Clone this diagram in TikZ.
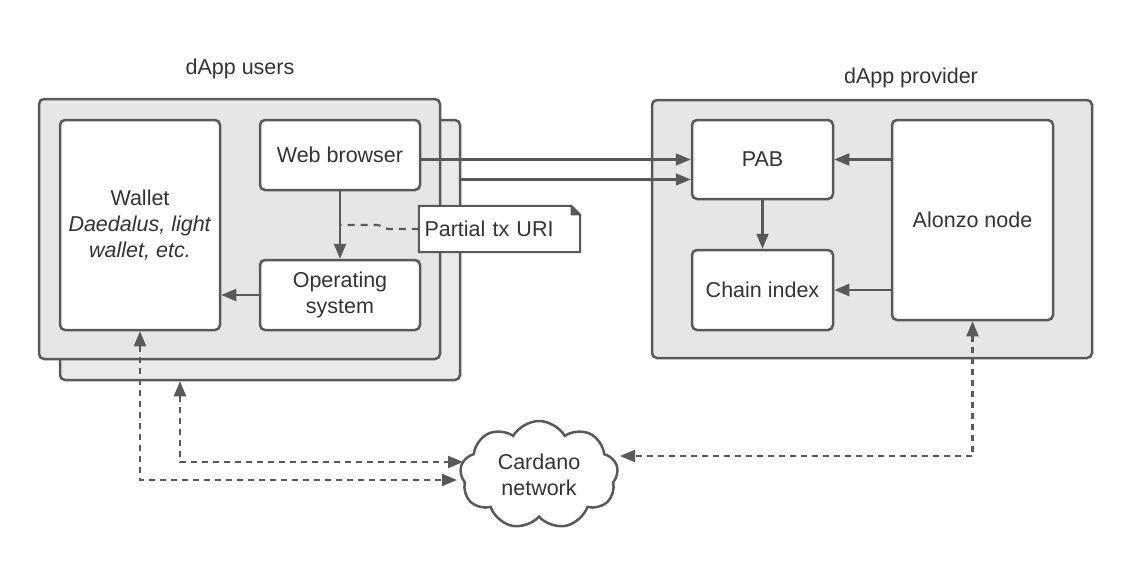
\documentclass[tikz,border=0pt]{standalone}
\usepackage{fontspec}
\setmainfont{Liberation Sans}
\definecolor{colline}{RGB}{89,89,89}
\definecolor{colgroup}{RGB}{230,230,230}
\definecolor{colshadow}{RGB}{234,234,234}
\definecolor{coltext}{RGB}{51,51,51}
\usetikzlibrary{
	arrows.meta,
	calc,
	shapes.symbols,
	positioning
}
\tikzset{
	>={Triangle[length=15pt,width=12pt]},
	groupbox/.style={draw=colline, line width=2.5pt, fill=colgroup, rounded corners=5pt, inner sep=0pt},
	compnode/.style={draw=colline, line width=2.5pt, fill=white, rounded corners=5pt, inner sep=0pt, text=coltext, align=center},
	grouplabel/.style={text=coltext},
	link/.style={->, draw=colline, line width=2.1pt},
	netlink/.style={<->, draw=colline, line width=2.1pt, dash pattern=on 6pt off 5pt},
	notelink/.style={draw=colline, line width=2.1pt, dash pattern=on 7pt off 6pt}
}

\begin{document}
\begin{tikzpicture}[x=1pt, y=-1pt, font=\fontsize{21.5}{26}\selectfont]
	\useasboundingbox (0,0) rectangle (1132,584);

	\node[groupbox, fill=colshadow, minimum width=400pt, minimum height=260pt] (usersback) at (260,250) {};
	\node[groupbox, minimum width=401pt, minimum height=260pt] (users) at (239.5,229) {};
	\node[groupbox, minimum width=440pt, minimum height=258pt] (provider) at (872,229) {};
	\node[grouplabel] (userslabel) at (240,69) {dApp users};
	\node[grouplabel] (providerlabel) at (911,78) {dApp provider};

	\node[compnode, minimum width=160pt, minimum height=210pt] (wallet) at (140,225)
		{Wallet\\\textit{Daedalus, light}\\\textit{wallet, etc.}};
	\node[compnode, minimum width=160pt, minimum height=70pt] (browser) at (340,155) {Web browser};
	\node[compnode, minimum width=160pt, minimum height=70pt] (os) at (340,295) {Operating\\system};

	\node[compnode, minimum width=141pt, minimum height=79pt] (pab) at (762.5,159.5) {PAB};
	\node[compnode, minimum width=141pt, minimum height=80pt] (chain) at (762.5,290) {Chain index};
	\node[compnode, minimum width=161pt, minimum height=200pt] (alonzo) at (972.5,220) {Alonzo node};

	\node[cloud, cloud puffs=9, cloud puff arc=120, aspect=1.45, draw=colline, line width=2.5pt, fill=white,
		minimum width=158pt, minimum height=108pt, inner sep=0pt, text=coltext, align=center]
		(cloud) at (539,475) {Cardano\\network};

	\coordinate (pabin) at ([yshift=-20pt]pab.west);
	\draw[link] (browser.east |- pab.west) -- (pab.west);
	\draw[link] (usersback.east |- pabin) -- (pabin);
	\draw[link] (browser.south) -- (os.north);
	\draw[link] (os.west) -- (wallet.east |- os.west);
	\draw[link] (pab.south) -- (chain.north);
	\draw[link] (alonzo.west |- pab.east) -- (pab.east);
	\draw[link] (alonzo.west |- chain.east) -- (chain.east);

	\node[fill=white, inner sep=0pt, minimum width=161pt, minimum height=46pt, text=coltext,
		text width=150pt, align=left] (note) at (499.5,229) {Partial tx URI};
	\draw[draw=colline, line width=2pt] (note.north west) -- ([xshift=-9pt]note.north east)
		-- ([yshift=-9pt]note.north east) -- (note.south east) -- (note.south west) -- cycle;
	\draw[draw=colline, fill=colline, line width=1.2pt] ([xshift=-9pt]note.north east)
		-- ([xshift=-9pt,yshift=-9pt]note.north east) -- ([yshift=-9pt]note.north east) -- cycle;
	\coordinate (ostap) at ($(browser.south)!0.5!(os.north)$);
	\draw[notelink] (note.west) -- ++(-30,0) .. controls +(-5,0) and +(5,0) .. ++(-12,-4) -- (ostap);

	\coordinate (netleftA) at (457,480);
	\coordinate (netleftB) at (463,462);
	\coordinate (netright) at (620,456);
	\draw[netlink] (wallet.south) |- (netleftA);
	\draw[netlink] ([xshift=-80pt]usersback.south) |- (netleftB);
	\draw[netlink] (alonzo.south) |- (netright);
\end{tikzpicture}
\end{document}
